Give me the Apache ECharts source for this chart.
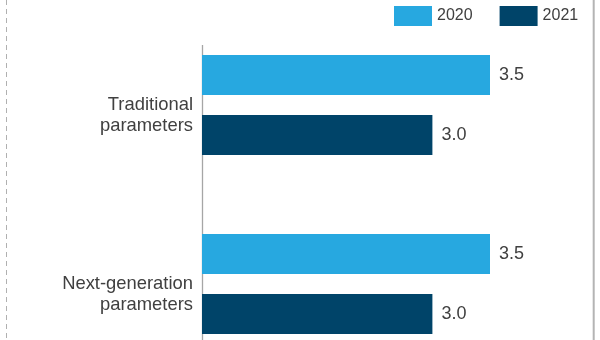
<!DOCTYPE html>
<html>
<head>
<meta charset="utf-8">
<script src="https://cdn.jsdelivr.net/npm/echarts@6/dist/echarts.min.js"></script>
<style>
  html, body { margin: 0; padding: 0; background: #fff; }
  #chart { width: 600px; height: 340px; }
</style>
</head>
<body>
<div id="chart"></div>
<script>
// Categories and values per year
const categories = ['Traditional\nparameters', 'Next-generation\nparameters'];
const years = ['2020', '2021'];
const values2020 = [3.5, 3.5];
const values2021 = [3.0, 3.0];

const colors = ['#27a8e0', '#004469'];
const textColor = '#404040';
const fontFamily = 'Liberation Sans, Arial, sans-serif';

const chart = echarts.init(document.getElementById('chart'), null, { renderer: 'canvas' });

const valueLabel = {
  show: true,
  position: 'right',
  distance: 9,
  fontSize: 18,
  color: textColor,
  fontFamily: fontFamily,
  formatter: p => Number(p.value).toFixed(1)
};

chart.setOption({
  animation: false,
  textStyle: { fontFamily: fontFamily },
  legend: {
    data: years,
    left: 394,
    top: 6,
    padding: 0,
    icon: 'rect',
    itemWidth: 38,
    itemHeight: 20,
    itemGap: 27,
    textStyle: { fontSize: 16, color: textColor, fontFamily: fontFamily }
  },
  // the plot area runs past the bottom edge so the two bands sit 179px apart
  grid: {
    left: 202, top: 15.5, width: 345.6, height: 358,
    containLabel: false,
    outerBoundsMode: 'none'
  },
  xAxis: {
    type: 'value',
    min: 1,
    max: 4,
    show: false
  },
  yAxis: {
    type: 'category',
    data: categories,
    inverse: true,
    axisLine: { show: false },
    axisTick: { show: false },
    axisLabel: {
      margin: 9,
      fontSize: 18.4,
      lineHeight: 21,
      color: textColor,
      fontFamily: fontFamily,
      align: 'right',
      // a blank leading line drops the two-line label half a line below the band centre
      formatter: v => '\n' + v
    }
  },
  series: [
    {
      name: years[0],
      type: 'bar',
      data: values2020,
      barWidth: 40,
      barGap: '50%',
      itemStyle: { color: colors[0] },
      label: valueLabel
    },
    {
      name: years[1],
      type: 'bar',
      data: values2021,
      barWidth: 40,
      barGap: '50%',
      itemStyle: { color: colors[1] },
      label: valueLabel
    }
  ]
});

// Vertical baseline at the start of the value axis, plus the frame rules
const baseX = Math.round(chart.convertToPixel({ xAxisIndex: 0 }, 1)) + 0.5;
chart.setOption({
  graphic: [
    {
      type: 'line',
      shape: { x1: baseX, y1: 45, x2: baseX, y2: 340 },
      style: { stroke: '#a6a6a6', lineWidth: 1.3 },
      silent: true
    },
    {
      type: 'line',
      shape: { x1: 6.5, y1: 0, x2: 6.5, y2: 340 },
      style: { stroke: '#b0b0b0', lineWidth: 1, lineDash: [5, 4] },
      silent: true
    },
    {
      type: 'line',
      shape: { x1: 593.7, y1: 0, x2: 593.7, y2: 340 },
      style: { stroke: '#b4b4b4', lineWidth: 2 },
      silent: true
    }
  ]
});
</script>
</body>
</html>
